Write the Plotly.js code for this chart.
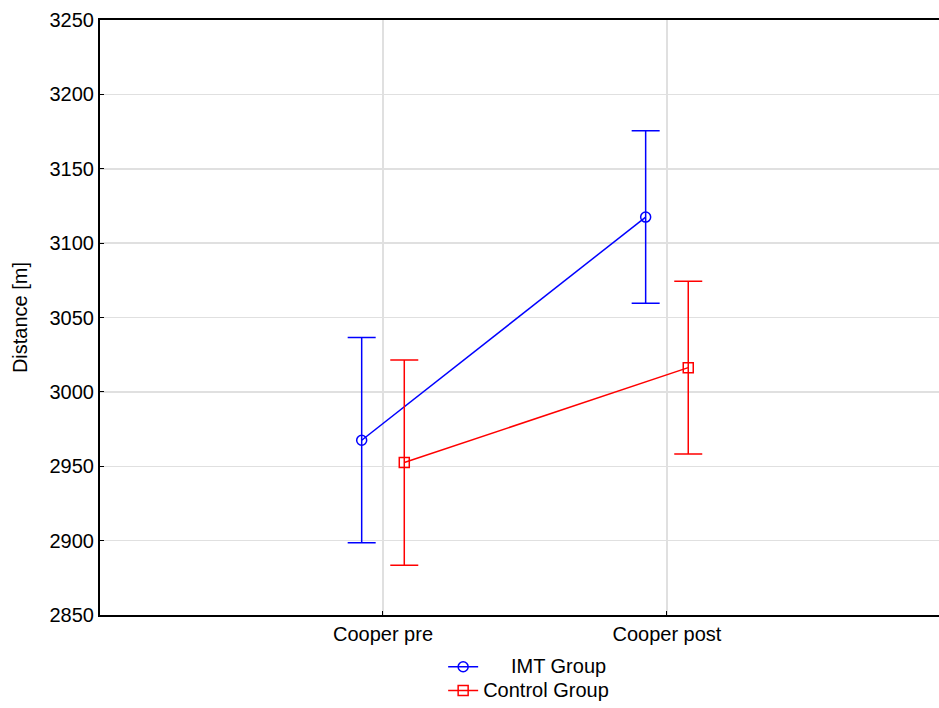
<!DOCTYPE html>
<html>
<head>
<meta charset="utf-8">
<script src="https://cdn.plot.ly/plotly-3.0.1.min.js"></script>
<style>html,body{margin:0;padding:0;background:#fff;}#chart{width:939px;height:708px;}</style>
</head>
<body>
<div id="chart"></div>
<script>
const categories = ["Cooper pre", "Cooper post"];
const imtMean = [2967.5, 3117.5];
const imtErr = [69, 58];
const controlMean = [2952.5, 3016.3];
const controlErr = [69, 58];
const yTicks = [2850, 2900, 2950, 3000, 3050, 3100, 3150, 3200, 3250];
const seriesNames = ["IMT Group", "Control Group"];

const idx = categories.map((c, i) => i);
const offset = 0.075;
const big = s => '<span style="font-size:20px">' + s + '</span>';

const traces = [
  {
    name: big("\u00a0\u00a0\u00a0\u00a0\u00a0" + seriesNames[0]),
    x: idx.map(i => i - offset),
    y: imtMean,
    type: "scatter",
    mode: "lines+markers",
    line: {color: "#0000ff", width: 1.5},
    marker: {symbol: "circle-open", size: 10, color: "#0000ff", line: {width: 1.5}},
    error_y: {type: "data", array: imtErr, visible: true, color: "#0000ff", thickness: 1.5, width: 14}
  },
  {
    name: big(seriesNames[1]),
    x: idx.map(i => i + offset),
    y: controlMean,
    type: "scatter",
    mode: "lines+markers",
    line: {color: "#ff0000", width: 1.5},
    marker: {symbol: "square-open", size: 10, color: "#ff0000", line: {width: 1.5}},
    error_y: {type: "data", array: controlErr, visible: true, color: "#ff0000", thickness: 1.5, width: 14}
  }
];

const layout = {
  width: 939,
  height: 708,
  margin: {l: 100, r: 0, t: 20, b: 93},
  paper_bgcolor: "#ffffff",
  plot_bgcolor: "#ffffff",
  font: {family: "Liberation Sans, Arial, sans-serif", size: 20, color: "#000"},
  showlegend: true,
  legend: {
    orientation: "v",
    x: 0.409, xanchor: "left",
    y: -0.156, yanchor: "bottom",
    bgcolor: "rgba(0,0,0,0)",
    font: {size: 16},
    tracegroupgap: 0
  },
  xaxis: {
    range: [-0.9965, 1.958],
    tickvals: idx,
    ticktext: categories,
    showgrid: true,
    gridcolor: "#e0e0e0",
    gridwidth: 1.5,
    zeroline: false,
    showline: true,
    linecolor: "#000",
    linewidth: 2,
    mirror: true,
    ticks: "inside",
    ticklen: 4,
    tickcolor: "#000",
    tickfont: {size: 20}
  },
  yaxis: {
    range: [2850, 3250],
    tickvals: yTicks,
    showgrid: true,
    gridcolor: "#e0e0e0",
    gridwidth: 1.5,
    zeroline: false,
    showline: true,
    linecolor: "#000",
    linewidth: 2,
    mirror: true,
    ticks: "inside",
    ticklen: 4,
    tickcolor: "#000",
    tickfont: {size: 20},
    title: {text: "Distance [m]", font: {size: 20}, standoff: 17}
  }
};

Plotly.newPlot("chart", traces, layout, {displayModeBar: false, staticPlot: true});
</script>
</body>
</html>
